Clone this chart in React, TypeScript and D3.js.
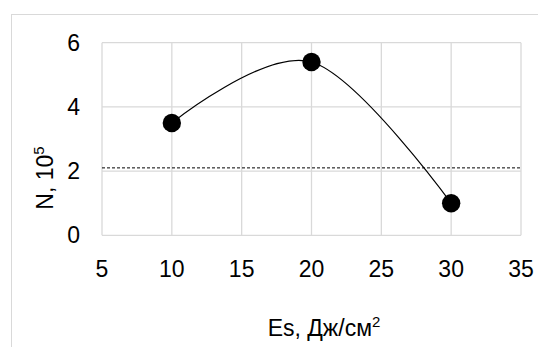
import { useEffect, useRef } from 'react';
import * as d3 from 'd3';

const energies = [10, 20, 30];
const counts = [3.5, 5.4, 1.0];
const thresholdLevel = 2.1;
const xTicks = [5, 10, 15, 20, 25, 30, 35];
const yTicks = [0, 2, 4, 6];

const App = () => {
  const svgRef = useRef<SVGSVGElement>(null);

  useEffect(() => {
    const svg = d3.select(svgRef.current);
    svg.selectAll('*').remove();

    const width = 538;
    const height = 347;
    const plot = { left: 102, right: 521, top: 42.7, bottom: 235.3 };
    const font = '"Liberation Sans", Arial, sans-serif';
    const grid = '#d9d9d9';
    const fs = 23;

    svg.attr('width', width).attr('height', height);

    // outer chart frame (runs past the picture on the right and bottom)
    svg.append('rect')
      .attr('x', 11.5).attr('y', 14.5)
      .attr('width', 700).attr('height', 500)
      .attr('fill', '#fff')
      .attr('stroke', grid)
      .attr('stroke-width', 1);

    const x = d3.scaleLinear().domain([5, 35]).range([plot.left, plot.right]);
    const y = d3.scaleLinear().domain([0, 6]).range([plot.bottom, plot.top]);

    const g = svg.append('g');

    // gridlines
    g.selectAll('.vgrid')
      .data(xTicks)
      .enter().append('line')
      .attr('x1', d => x(d)).attr('x2', d => x(d))
      .attr('y1', plot.top).attr('y2', plot.bottom)
      .attr('stroke', grid).attr('stroke-width', 1.3);

    g.selectAll('.hgrid')
      .data(yTicks)
      .enter().append('line')
      .attr('x1', plot.left).attr('x2', plot.right)
      .attr('y1', d => y(d)).attr('y2', d => y(d))
      .attr('stroke', grid).attr('stroke-width', 1.3);

    // tick labels
    g.selectAll('.xlab')
      .data(xTicks)
      .enter().append('text')
      .attr('x', d => x(d))
      .attr('y', 277)
      .attr('text-anchor', 'middle')
      .style('font-family', font)
      .style('font-size', `${fs}px`)
      .style('fill', '#000')
      .text(d => d);

    g.selectAll('.ylab')
      .data(yTicks)
      .enter().append('text')
      .attr('x', 80)
      .attr('y', d => y(d) + 8)
      .attr('text-anchor', 'end')
      .style('font-family', font)
      .style('font-size', `${fs}px`)
      .style('fill', '#000')
      .text(d => d);

    // dashed threshold
    g.append('line')
      .attr('x1', plot.left).attr('x2', plot.right)
      .attr('y1', y(thresholdLevel)).attr('y2', y(thresholdLevel))
      .attr('stroke', '#000')
      .attr('stroke-width', 1)
      .attr('stroke-dasharray', '3,2');

    // smoothed line
    const pts = energies.map((e, i) => [e, counts[i]] as [number, number]);
    const line = d3.line<[number, number]>()
      .x(d => x(d[0]))
      .y(d => y(d[1]))
      .curve(d3.curveCardinal.tension(0));

    g.append('path')
      .datum(pts)
      .attr('fill', 'none')
      .attr('stroke', '#000')
      .attr('stroke-width', 1.2)
      .attr('d', line);

    g.selectAll('.dot')
      .data(pts)
      .enter().append('circle')
      .attr('cx', d => x(d[0]))
      .attr('cy', d => y(d[1]))
      .attr('r', 9.2)
      .attr('fill', '#000');

    // axis titles
    const xt = svg.append('text')
      .attr('x', 324)
      .attr('y', 336)
      .attr('text-anchor', 'middle')
      .style('font-family', font)
      .style('font-size', `${fs}px`)
      .style('fill', '#000');
    xt.append('tspan').text('Es, Дж/см');
    xt.append('tspan').attr('dy', -9).style('font-size', '15px').text('2');

    const yt = svg.append('text')
      .attr('transform', 'translate(53,178) rotate(-90)')
      .attr('text-anchor', 'middle')
      .style('font-family', font)
      .style('font-size', `${fs}px`)
      .style('fill', '#000');
    yt.append('tspan').text('N, 10');
    yt.append('tspan').attr('dy', -9).style('font-size', '15px').text('5');
  }, []);

  return (
    <svg
      ref={svgRef}
      style={{ position: 'fixed', left: 0, top: 0, display: 'block' }}
    ></svg>
  );
};

export default App;
